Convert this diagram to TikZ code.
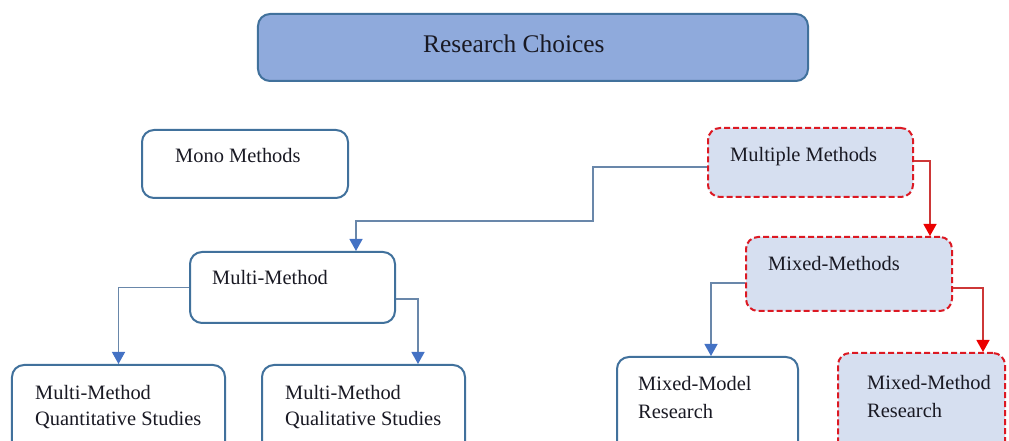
\documentclass[tikz,border=0pt]{standalone}
\usepackage{fontspec}
\setmainfont{Liberation Serif}
\usetikzlibrary{arrows.meta,calc}
\definecolor{boxblue}{RGB}{65,113,156}
\definecolor{topfill}{RGB}{143,170,220}
\definecolor{lightfill}{RGB}{214,223,240}
\definecolor{linkblue}{RGB}{105,135,170}
\definecolor{tipblue}{RGB}{68,114,196}
\definecolor{dashred}{RGB}{220,25,35}
\definecolor{linkred}{RGB}{205,55,55}
\definecolor{tipred}{RGB}{235,0,0}
\definecolor{ink}{RGB}{25,25,35}
\begin{document}
\begin{tikzpicture}[x=1bp,y=-1bp,
  box/.style={draw=boxblue, line width=2bp, rounded corners=12bp, fill=white, inner sep=0},
  topbox/.style={box, fill=topfill},
  redbox/.style={draw=dashred, dash pattern=on 6bp off 3bp, line width=2bp,
                 rounded corners=12bp, fill=lightfill, inner sep=0},
  label/.style={anchor=base west, inner sep=0, text=ink, align=left,
                font=\fontsize{20.5}{26}\selectfont},
  link/.style={draw=linkblue, line width=1.3bp,
               -{Triangle[width=13bp,length=12bp,color=tipblue,fill=tipblue]}},
  redlink/.style={draw=linkred, line width=1.3bp,
               -{Triangle[width=13bp,length=12bp,color=tipred,fill=tipred]}}]
\useasboundingbox (0,0) rectangle (1009,441);
\clip (0,0) rectangle (1009,441);

% boxes
\node[topbox, minimum width=550bp, minimum height=67bp] (top) at (533,47.5) {};
\node[box, minimum width=206bp, minimum height=68bp] (mono) at (245,164) {};
\node[redbox, minimum width=205bp, minimum height=69bp] (multiple) at (810.5,162.5) {};
\node[redbox, minimum width=206bp, minimum height=74bp] (mixed) at (849,274) {};
\node[box, minimum width=205bp, minimum height=71bp] (multi) at (292.5,287.5) {};
\node[box, minimum width=213bp, minimum height=100bp] (quant) at (118.5,415) {};
\node[box, minimum width=203bp, minimum height=100bp] (qual) at (363.5,415) {};
\node[box, minimum width=181bp, minimum height=104bp] (model) at (707.5,409) {};
\node[redbox, minimum width=167bp, minimum height=108bp] (mmr) at (921.5,407) {};

% labels (multi-line labels sit on the baseline of their last line)
\node[label, font=\fontsize{25.5}{30}\selectfont] (ttop) at (423,53) {Research Choices};
\node[label] (tmono) at (175,163) {Mono Methods};
\node[label] (tmultiple) at (730,162) {Multiple Methods};
\node[label] (tmixed) at (768,271) {Mixed-Methods};
\node[label] (tmulti) at (212,285) {Multi-Method};
\node[label] (tquant) at (35,425) {Multi-Method\\Quantitative Studies};
\node[label] (tqual) at (285,425) {Multi-Method\\Qualitative Studies};
\node[label, font=\fontsize{20.5}{28}\selectfont] (tmodel) at (638,418) {Mixed-Model\\Research};
\node[label, font=\fontsize{20.5}{28}\selectfont] (tmmr) at (867,417) {Mixed-Method\\Research};

% connectors
\coordinate (j1) at (593,221);
\draw[link] ($(multiple.west)+(0,4.5)$) -| (j1) -| ($(multi.north)+(63.5,0)$);
\draw[link] (multi.west) -| (quant.north);
\draw[link] ($(multi.east)+(0,11.5)$) -| ($(qual.north)+(54.5,0)$);
\draw[redlink] ($(multiple.east)+(0,-1.5)$) -| ($(mixed.north)+(81,0)$);
\draw[link] ($(mixed.west)+(0,9)$) -| ($(model.north)+(3.5,0)$);
\draw[redlink] ($(mixed.east)+(0,14)$) -| ($(mmr.north)+(61.5,0)$);
\end{tikzpicture}
\end{document}
